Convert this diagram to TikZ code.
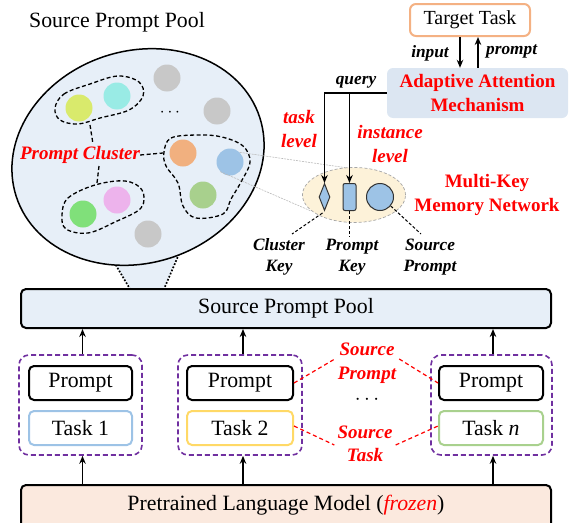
\documentclass[tikz,border=0pt]{standalone}
\usepackage{fontspec}
\setmainfont{Liberation Serif}
\usetikzlibrary{arrows.meta,shapes.geometric}
\definecolor{poolfill}{HTML}{E7EFF8}
\definecolor{aamfill}{HTML}{DCE6F2}
\definecolor{memfill}{HTML}{FDF2D9}
\definecolor{plmfill}{HTML}{FBE9DE}
\definecolor{orangeB}{HTML}{F4B183}
\definecolor{blueB}{HTML}{9DC3E6}
\definecolor{yellowB}{HTML}{FFD966}
\definecolor{greenB}{HTML}{A9D18E}
\definecolor{purp}{HTML}{7030A0}
\definecolor{cyg}{HTML}{D9EA6C}
\definecolor{ccyan}{HTML}{99EBE5}
\definecolor{cgray}{HTML}{C8C8C8}
\definecolor{corange}{HTML}{F1B07F}
\definecolor{cblue}{HTML}{9DC3E6}
\definecolor{clgreen}{HTML}{A8D08D}
\definecolor{cgreen}{HTML}{80E07A}
\definecolor{cpink}{HTML}{EDB3EC}
\begin{document}
\begin{tikzpicture}[x=1pt,y=-1pt,
  every node/.style={font=\fontsize{21.8}{23}\selectfont, inner sep=0pt},
  box/.style={draw, line width=2pt, rounded corners=5pt, minimum height=34pt},
  grp/.style={draw=purp, line width=1.6pt, dash pattern=on 5pt off 3pt, rounded corners=10pt, minimum width=123pt, minimum height=100pt},
  redlab/.style={text=red, font=\fontsize{19}{23.5}\selectfont\bfseries\itshape, align=center},
  redup/.style={text=red, font=\fontsize{19}{24}\selectfont\bfseries, align=center},
  smalllab/.style={font=\fontsize{17.3}{21}\selectfont\bfseries\itshape, align=center},
  arr/.style={-{Stealth[length=8pt,width=6.5pt]}, line width=1.6pt},
  dot/.style={circle, minimum size=27pt},
  clus/.style={line width=1.3pt, dash pattern=on 4pt off 2.5pt},
  reddash/.style={red, line width=1.2pt, dash pattern=on 4pt off 3pt},
  kshape/.style={draw=black!80, line width=1pt, fill=cblue},
  zoomline/.style={draw=gray!55, line width=0.6pt, dash pattern=on 2pt off 1pt}]
\useasboundingbox (0,0) rectangle (570,522);

% ---------- title ----------
\node (title) at (117,22) {Source Prompt Pool};

% ---------- funnel and pool ellipse ----------
\fill[poolfill] (114,262) -- (130,289) -- (164,289) -- (179,253) -- cycle;
\coordinate (f1) at (114,262);
\coordinate (f2) at (130,289);
\coordinate (f3) at (179,254);
\coordinate (f4) at (164,289);
\draw[line width=1.7pt, dash pattern=on 1.7pt off 1.7pt] (f1) -- (f2);
\draw[line width=1.7pt, dash pattern=on 1.7pt off 1.7pt] (f3) -- (f4);
\node[draw, ellipse, line width=1.5pt, fill=poolfill, minimum width=256pt, minimum height=212pt, rotate=18] (pool) at (138,157) {};

% ---------- prompt dots ----------
\node[dot, fill=cyg]     (d1) at (79,108) {};
\node[dot, fill=ccyan]   (d2) at (117,96) {};
\node[dot, fill=cgray]   (d3) at (167,78) {};
\node[dot, fill=cgray]   (d4) at (217,111) {};
\node (dd) at (170,113) {\fontsize{16}{16}\selectfont$\cdots$};
\node[dot, fill=corange] (d5) at (183,153) {};
\node[dot, fill=cblue]   (d6) at (230,162) {};
\node[dot, fill=clgreen] (d7) at (203,195) {};
\node[dot, fill=cgreen]  (d8) at (83,214) {};
\node[dot, fill=cpink]   (d9) at (117,200) {};
\node[dot, fill=cgray]   (d10) at (148,234) {};

% ---------- clusters ----------
\draw[clus] plot[smooth cycle, tension=0.6] coordinates {(55,108) (64,94) (90,84) (118,76) (139,82) (143,96) (129,110) (100,118) (78,124) (60,120)};
\draw[clus] plot[smooth cycle, tension=0.6] coordinates {(62,215) (68,198) (95,185) (125,181) (142,190) (141,208) (115,222) (88,233) (66,229)};
\draw[clus] plot[smooth cycle, tension=0.6] coordinates {(164,152) (171,138) (198,135) (222,137) (243,146) (250,162) (241,182) (231,199) (223,214) (196,218) (183,206) (178,183) (166,166)};
\node[redlab] (pc) at (80,155) {Prompt Cluster};
\coordinate (c1b) at (90,125);
\coordinate (c1e) at (93,144);
\coordinate (c2t) at (97,183);
\coordinate (c2e) at (99,166);
\coordinate (c3l) at (163,153);
\draw[clus] (pc.east) -- (c3l);
\draw[clus] (c1b) -- (c1e);
\draw[clus] (c2e) -- (c2t);

% ---------- target task and attention ----------
\node[box, draw=orangeB, rounded corners=6pt, minimum width=120pt, minimum height=32pt, fill=white, font=\fontsize{20}{22}\selectfont] (target) at (470,20) {Target Task};
\node[fill=aamfill, rounded corners=6pt, minimum width=181pt, minimum height=50pt, redup] (aam) at (477.5,93) {Adaptive Attention\\Mechanism};
\draw[arr] ([xshift=-10pt]target.south) -- ([xshift=-10pt]target.south |- aam.north);
\draw[arr] ([xshift=8pt]target.south |- aam.north) -- ([xshift=8pt]target.south);
\node[smalllab, anchor=east] (inl) at (449,53) {input};
\node[smalllab, anchor=west] (prl) at (486,51) {prompt};

% ---------- memory network ----------
\draw[zoomline] (d6.north east) -- (348,168);
\draw[zoomline] (d6.south west) -- (311,211);
\node[ellipse, draw=gray!70, dash pattern=on 3pt off 2pt, line width=0.7pt, fill=memfill, minimum width=103pt, minimum height=55pt] (mem) at (354,195) {};
\node[diamond, kshape, minimum width=11pt, minimum height=27pt] (ck) at (324.5,197) {};
\node[rectangle, kshape, rounded corners=2pt, minimum width=13pt, minimum height=27pt] (pk) at (349.5,197) {};
\node[circle, kshape, minimum size=27pt] (sp) at (380,197) {};
\node[redup] (mkl) at (487,195) {Multi-Key\\Memory Network};

\node[smalllab] (query) at (356,82) {query};
\draw[arr] (aam.west) -| (ck.north);
\draw[arr] (pk.north |- aam.west) -- (pk.north);
\node[redlab] (tl) at (299,129) {task\\level};
\node[redlab] (il) at (390,144) {instance\\level};

\node[smalllab] (ckl) at (279,257) {Cluster\\Key};
\node[smalllab] (pkl) at (352,257) {Prompt\\Key};
\node[smalllab] (spl) at (430,257) {Source\\Prompt};
\coordinate (ckt) at (292,234);
\coordinate (pkt) at (349.5,237);
\coordinate (spt) at (421,234);
\draw[line width=1pt, dash pattern=on 3pt off 2pt] ([xshift=-2pt,yshift=-2pt]ck.south) -- (ckt);
\draw[line width=1pt, dash pattern=on 3pt off 2pt] (pk.south) -- (pkt);
\draw[line width=1pt, dash pattern=on 3pt off 2pt] (sp.-40) -- (spt);

% ---------- source prompt pool box ----------
\node[box, fill=poolfill, minimum width=530pt, minimum height=39pt] (spp) at (286,308.5) {Source Prompt Pool};

% ---------- task groups ----------
\node[grp] (g1) at (80.5,405) {};
\node[grp, minimum width=124pt] (g2) at (240,405) {};
\node[grp, minimum width=121pt] (g3) at (491.5,405) {};
\node[box, minimum width=103pt] (p1) at (80.5,383) {Prompt};
\node[box, draw=blueB, minimum width=103pt] (t1) at (80.5,428) {Task 1};
\node[box, minimum width=106pt] (p2) at (240,383) {Prompt};
\node[box, draw=yellowB, minimum width=106pt] (t2) at (240,428) {Task 2};
\node[box, minimum width=104pt] (p3) at (491,383) {Prompt};
\node[box, draw=greenB, minimum width=104pt] (t3) at (491,428) {Task \textit{n}};

\node[redlab] (spl2) at (367,363) {Source\\Prompt};
\node (dots) at (367,400) {$\cdots$};
\node[redlab] (stl) at (365,444) {Source\\Task};
\draw[reddash] (p2.east) -- ([xshift=-3pt,yshift=4pt]spl2.west);
\draw[reddash] ([xshift=3pt,yshift=4pt]spl2.east) -- (p3.west);
\draw[reddash] ([yshift=2pt]t2.east) -- ([xshift=-3pt,yshift=-1pt]stl.west);
\draw[reddash] ([xshift=3pt,yshift=-1pt]stl.east) -- ([yshift=2pt]t3.west);

% ---------- PLM ----------
\node[box, fill=plmfill, minimum width=530pt, minimum height=48pt, anchor=north] (plm) at (286,484) {};
\node (plmt) at (286,505) {Pretrained Language Model (\textcolor{red}{\textit{frozen}})};

% ---------- arrows ----------
\draw[arr] ([xshift=2pt]g1.north) -- ([xshift=2pt]g1.north |- spp.south);
\draw[arr] ([xshift=3pt]g2.north) -- ([xshift=3pt]g2.north |- spp.south);
\draw[arr] ([xshift=1.5pt]g3.north) -- ([xshift=1.5pt]g3.north |- spp.south);
\draw[arr] ([xshift=2pt]g1.south |- plm.north) -- ([xshift=2pt]g1.south);
\draw[arr] ([xshift=3pt]g2.south |- plm.north) -- ([xshift=3pt]g2.south);
\draw[arr] ([xshift=1.5pt]g3.south |- plm.north) -- ([xshift=1.5pt]g3.south);
\end{tikzpicture}
\end{document}
